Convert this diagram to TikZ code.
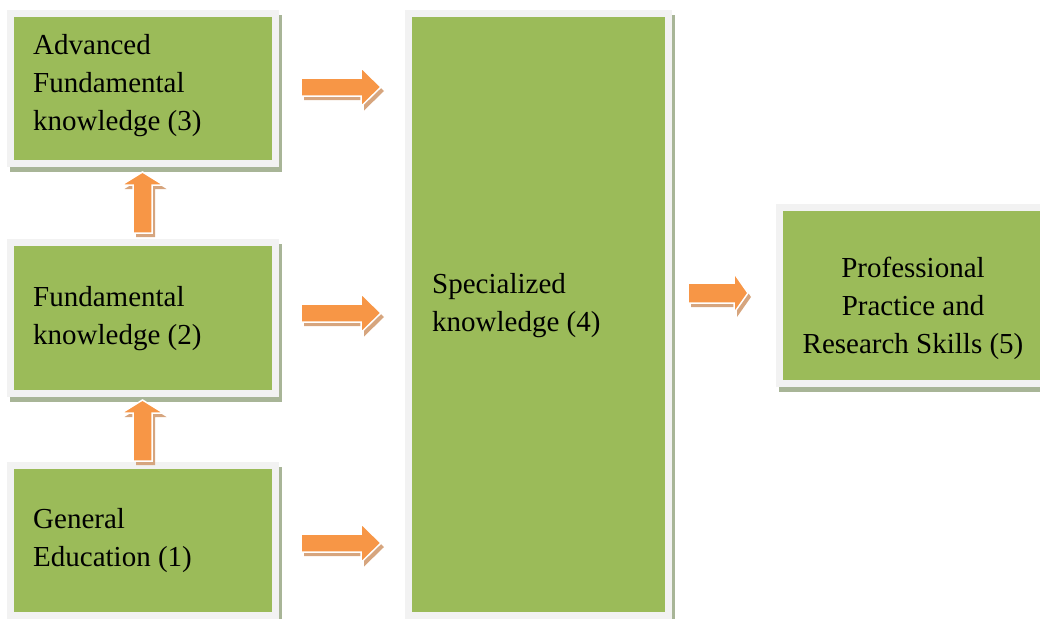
\documentclass[tikz,border=0pt]{standalone}
\usepackage{fontspec}
\setmainfont{Liberation Serif}
\usetikzlibrary{shadows}

\definecolor{boxgreen}{HTML}{9BBB59}
\definecolor{framegray}{HTML}{F2F2F2}
\definecolor{boxshadow}{RGB}{168,181,151}
\definecolor{arroworange}{HTML}{F79646}
\definecolor{arrowtan}{RGB}{214,165,126}

% Block arrow: #1 tail point, #2 direction angle, #3 length,
% #4 head length, #5 head half width, #6 shaft half width
\newcommand{\blkarrow}[6]{%
  \begin{scope}[shift={#1}]
    \fill[arrowtan, shift={(3,4)}, rotate=#2]
      (0,-#6) -- ({#3-#4},-#6) -- ({#3-#4},-#5) -- (#3,0) --
      ({#3-#4},#5) -- ({#3-#4},#6) -- (0,#6) -- cycle;
    \filldraw[fill=arroworange, draw=white, line width=1.5pt, line join=miter, rotate=#2]
      (0,-#6) -- ({#3-#4},-#6) -- ({#3-#4},-#5) -- (#3,0) --
      ({#3-#4},#5) -- ({#3-#4},#6) -- (0,#6) -- cycle;
  \end{scope}}

\begin{document}
\begin{tikzpicture}[x=1pt, y=-1pt,
  box/.style={rectangle, fill=boxgreen, draw=framegray, line width=7pt,
    inner sep=0pt, outer sep=0pt,
    general shadow={fill=boxshadow, draw=boxshadow, line width=7pt,
      shadow xshift=3pt, shadow yshift=-5pt}},
  label/.style={inner sep=0pt, font=\fontsize{29}{38}\selectfont, text=black}]

\useasboundingbox (0,0) rectangle (1040,618);
\clip (0,0) rectangle (1040,618);

% boxes
\node[box, minimum width=265pt, minimum height=150pt] (b3) at (143,88.5) {};
\node[box, minimum width=265pt, minimum height=151pt] (b2) at (143,318) {};
\node[box, minimum width=265pt, minimum height=150pt] (b1) at (143,540.5) {};
\node[box, minimum width=260pt, minimum height=602pt] (b4) at (538.5,314.5) {};
\node[box, minimum width=268pt, minimum height=176pt] (b5) at (913.5,295.5) {};

% box texts
\node[label, anchor=west, align=left] (t3) at (33,85.5)
  {Advanced\\Fundamental\\knowledge (3)};
\node[label, anchor=west, align=left] (t2) at (33,318.5)
  {Fundamental\\knowledge (2)};
\node[label, anchor=west, align=left] (t1) at (33,540.5)
  {General\\Education (1)};
\node[label, anchor=west, align=left] (t4) at (432,306)
  {Specialized\\knowledge (4)};
\node[label, align=center] (t5) at (913,308.5)
  {Professional\\Practice and\\Research Skills (5)};

% arrow tails
\coordinate (a1) at (301,87);
\coordinate (a2) at (301,313);
\coordinate (a3) at (301,543);
\coordinate (a4) at (688,293);
\coordinate (u1) at (142.5,233);
\coordinate (u2) at (142.5,461);

% block arrows
\blkarrow{(a1)}{0}{80}{20}{19.5}{9}
\blkarrow{(a2)}{0}{80}{20}{19.5}{9}
\blkarrow{(a3)}{0}{80}{20}{19.5}{9}
\blkarrow{(a4)}{0}{60}{14}{20}{10}
\blkarrow{(u1)}{90}{61}{13}{21}{9.5}
\blkarrow{(u2)}{90}{61}{13}{21}{9.5}

\end{tikzpicture}
\end{document}
